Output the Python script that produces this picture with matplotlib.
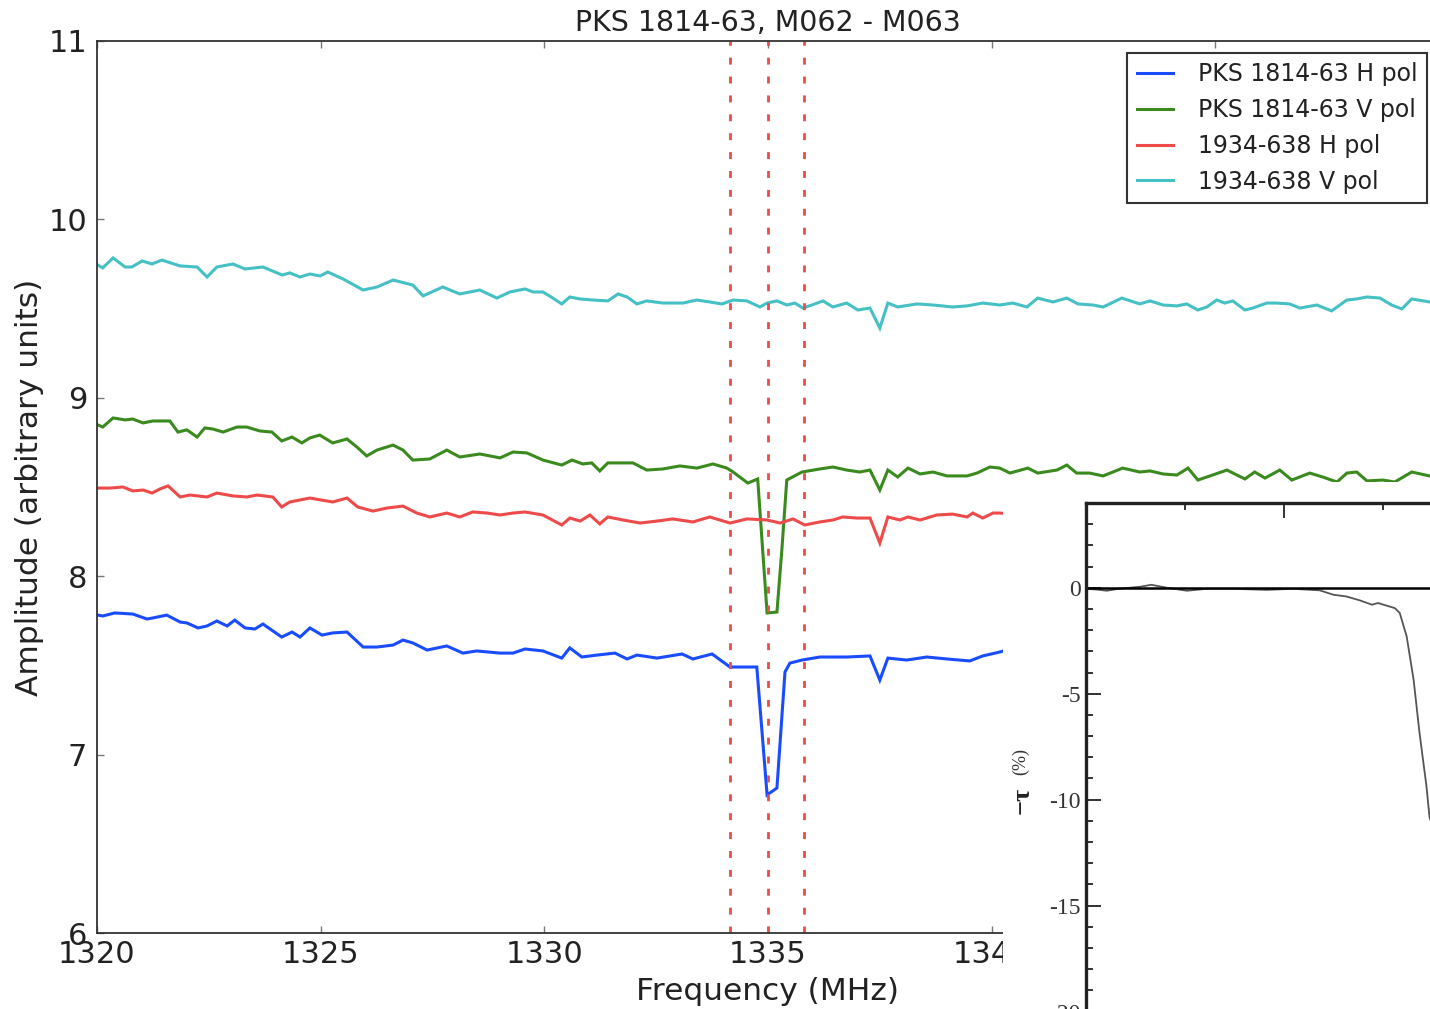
import matplotlib
matplotlib.use('Agg')
import matplotlib.pyplot as plt
from matplotlib.patches import Rectangle
from matplotlib.ticker import MultipleLocator

plt.rcParams['font.family'] = 'DejaVu Sans'
plt.rcParams['axes.unicode_minus'] = False

# ---------------- data ----------------
title = 'PKS 1814-63, M062 - M063'
series_labels = ['PKS 1814-63 H pol', 'PKS 1814-63 V pol', '1934-638 H pol', '1934-638 V pol']
series_colors = ['#1a4cff', '#3a8a1e', '#ee4a4a', '#45c0c4']

pks_h_freq = [1320.02, 1320.13, 1320.40, 1320.80, 1321.12, 1321.25, 1321.56, 1321.86, 1322.01, 1322.26,
              1322.46, 1322.68, 1322.91, 1323.08, 1323.31, 1323.53, 1323.71, 1324.13, 1324.36, 1324.54,
              1324.76, 1325.03, 1325.27, 1325.59, 1325.95, 1326.26, 1326.62, 1326.84, 1327.06, 1327.38,
              1327.82, 1328.18, 1328.49, 1329.01, 1329.30, 1329.57, 1329.97, 1330.39, 1330.57, 1330.84,
              1331.18, 1331.58, 1331.85, 1332.07, 1332.52, 1333.08, 1333.32, 1333.75, 1334.15, 1334.75,
              1334.98, 1335.20, 1335.38, 1335.49, 1335.76, 1336.16, 1336.76, 1337.28, 1337.50, 1337.68,
              1338.10, 1338.55, 1339.00, 1339.51, 1339.80, 1340.18, 1340.40]
pks_h_amp = [7.782, 7.777, 7.794, 7.788, 7.760, 7.766, 7.782, 7.743, 7.738, 7.710,
             7.721, 7.749, 7.721, 7.754, 7.710, 7.704, 7.732, 7.659, 7.687, 7.659,
             7.710, 7.670, 7.682, 7.687, 7.603, 7.603, 7.614, 7.642, 7.626, 7.586,
             7.609, 7.569, 7.581, 7.569, 7.569, 7.592, 7.581, 7.541, 7.598, 7.547,
             7.558, 7.569, 7.536, 7.558, 7.541, 7.564, 7.536, 7.564, 7.491, 7.491,
             6.774, 6.813, 7.463, 7.513, 7.530, 7.547, 7.547, 7.553, 7.418, 7.541,
             7.530, 7.547, 7.536, 7.525, 7.553, 7.575, 7.590]

pks_v_freq = [1320.02, 1320.13, 1320.36, 1320.63, 1320.80, 1321.03, 1321.25, 1321.63, 1321.81, 1322.01,
              1322.24, 1322.41, 1322.59, 1322.82, 1323.13, 1323.35, 1323.64, 1323.91, 1324.13, 1324.36,
              1324.58, 1324.76, 1324.98, 1325.27, 1325.59, 1325.81, 1326.03, 1326.26, 1326.62, 1326.84,
              1327.06, 1327.44, 1327.82, 1328.11, 1328.56, 1329.01, 1329.30, 1329.61, 1329.97, 1330.39,
              1330.62, 1330.86, 1331.06, 1331.24, 1331.42, 1331.98, 1332.29, 1332.65, 1333.03, 1333.41,
              1333.77, 1334.08, 1334.22, 1334.55, 1334.77, 1334.98, 1335.20, 1335.31, 1335.42, 1335.76,
              1336.16, 1336.45, 1336.76, 1337.05, 1337.28, 1337.50, 1337.68, 1337.90, 1338.13, 1338.40,
              1338.69, 1339.00, 1339.45, 1339.67, 1339.96, 1340.18, 1340.41, 1340.81, 1341.03, 1341.46,
              1341.68, 1341.90, 1342.19, 1342.49, 1342.93, 1343.31, 1343.54, 1343.83, 1344.14, 1344.39,
              1344.61, 1344.88, 1345.26, 1345.66, 1345.88, 1346.11, 1346.44, 1346.71, 1347.11, 1347.40,
              1347.72, 1347.94, 1348.16, 1348.39, 1348.74, 1349.01, 1349.39, 1349.79]
pks_v_amp = [8.848, 8.836, 8.887, 8.876, 8.881, 8.859, 8.870, 8.870, 8.808, 8.820,
             8.780, 8.831, 8.825, 8.808, 8.836, 8.836, 8.814, 8.808, 8.758, 8.780,
             8.747, 8.775, 8.791, 8.747, 8.769, 8.724, 8.674, 8.707, 8.735, 8.707,
             8.651, 8.657, 8.707, 8.668, 8.685, 8.663, 8.696, 8.691, 8.651, 8.623,
             8.651, 8.629, 8.635, 8.590, 8.635, 8.635, 8.595, 8.601, 8.618, 8.606,
             8.629, 8.606, 8.584, 8.522, 8.545, 7.794, 7.799, 8.147, 8.539, 8.584,
             8.601, 8.612, 8.595, 8.584, 8.595, 8.483, 8.595, 8.556, 8.606, 8.573,
             8.584, 8.562, 8.562, 8.578, 8.612, 8.606, 8.578, 8.606, 8.578, 8.595,
             8.623, 8.578, 8.578, 8.562, 8.606, 8.584, 8.590, 8.573, 8.567, 8.606,
             8.539, 8.562, 8.595, 8.545, 8.584, 8.550, 8.595, 8.539, 8.578, 8.556,
             8.528, 8.578, 8.584, 8.534, 8.539, 8.528, 8.584, 8.562]

cal_h_freq = [1320.02, 1320.29, 1320.58, 1320.80, 1321.03, 1321.23, 1321.41, 1321.59, 1321.86, 1322.08,
              1322.46, 1322.68, 1323.04, 1323.35, 1323.58, 1323.93, 1324.13, 1324.31, 1324.76, 1325.27,
              1325.59, 1325.83, 1326.17, 1326.48, 1326.84, 1327.15, 1327.44, 1327.82, 1328.11, 1328.40,
              1328.72, 1329.01, 1329.30, 1329.57, 1329.97, 1330.39, 1330.57, 1330.80, 1331.02, 1331.24,
              1331.42, 1331.76, 1332.14, 1332.52, 1332.87, 1333.32, 1333.70, 1334.15, 1334.53, 1334.98,
              1335.27, 1335.56, 1335.82, 1336.16, 1336.45, 1336.67, 1336.99, 1337.28, 1337.50, 1337.68,
              1337.95, 1338.13, 1338.40, 1338.77, 1339.13, 1339.45, 1339.58, 1339.80, 1340.03, 1340.18,
              1340.40]
cal_h_amp = [8.494, 8.494, 8.500, 8.478, 8.483, 8.466, 8.489, 8.506, 8.444, 8.455,
             8.444, 8.466, 8.450, 8.444, 8.455, 8.444, 8.388, 8.416, 8.438, 8.416,
             8.438, 8.388, 8.365, 8.382, 8.393, 8.354, 8.332, 8.354, 8.332, 8.360,
             8.354, 8.343, 8.354, 8.360, 8.343, 8.287, 8.326, 8.309, 8.343, 8.293,
             8.332, 8.315, 8.298, 8.309, 8.321, 8.304, 8.332, 8.298, 8.321, 8.315,
             8.298, 8.321, 8.287, 8.304, 8.315, 8.332, 8.326, 8.326, 8.186, 8.332,
             8.315, 8.332, 8.315, 8.343, 8.348, 8.332, 8.354, 8.326, 8.354, 8.354,
             8.350]

cal_v_freq = [1320.02, 1320.13, 1320.36, 1320.63, 1320.78, 1321.01, 1321.23, 1321.45, 1321.86, 1322.24,
              1322.46, 1322.68, 1323.04, 1323.31, 1323.71, 1324.14, 1324.31, 1324.54, 1324.76, 1324.99,
              1325.16, 1325.50, 1325.95, 1326.26, 1326.62, 1327.06, 1327.29, 1327.73, 1328.11, 1328.56,
              1328.94, 1329.23, 1329.57, 1329.75, 1329.97, 1330.19, 1330.39, 1330.57, 1330.80, 1331.09,
              1331.42, 1331.65, 1331.85, 1332.07, 1332.29, 1332.65, 1333.10, 1333.41, 1333.70, 1333.97,
              1334.22, 1334.53, 1334.82, 1334.98, 1335.20, 1335.42, 1335.60, 1335.78, 1335.98, 1336.23,
              1336.45, 1336.76, 1337.01, 1337.28, 1337.50, 1337.68, 1337.90, 1338.33, 1338.69, 1339.13,
              1339.45, 1339.80, 1340.18, 1340.47, 1340.79, 1341.03, 1341.37, 1341.68, 1341.93, 1342.26,
              1342.49, 1342.91, 1343.31, 1343.54, 1343.83, 1344.14, 1344.36, 1344.61, 1344.81, 1345.03,
              1345.21, 1345.39, 1345.66, 1345.84, 1346.15, 1346.37, 1346.66, 1346.89, 1347.27, 1347.60,
              1347.94, 1348.16, 1348.39, 1348.68, 1348.94, 1349.17, 1349.39, 1349.79]
cal_v_amp = [9.744, 9.728, 9.784, 9.733, 9.733, 9.767, 9.750, 9.772, 9.739, 9.733,
             9.677, 9.733, 9.750, 9.722, 9.733, 9.688, 9.700, 9.677, 9.694, 9.683,
             9.705, 9.666, 9.604, 9.621, 9.660, 9.632, 9.571, 9.621, 9.582, 9.604,
             9.559, 9.593, 9.610, 9.593, 9.593, 9.559, 9.526, 9.565, 9.554, 9.548,
             9.543, 9.582, 9.565, 9.526, 9.543, 9.531, 9.531, 9.548, 9.537, 9.526,
             9.548, 9.543, 9.509, 9.531, 9.543, 9.520, 9.531, 9.503, 9.520, 9.543,
             9.509, 9.531, 9.492, 9.503, 9.391, 9.531, 9.509, 9.526, 9.520, 9.509,
             9.515, 9.531, 9.520, 9.531, 9.509, 9.559, 9.537, 9.559, 9.526, 9.520,
             9.509, 9.559, 9.526, 9.543, 9.520, 9.515, 9.526, 9.492, 9.509, 9.548,
             9.531, 9.543, 9.492, 9.503, 9.531, 9.531, 9.526, 9.503, 9.520, 9.487,
             9.548, 9.554, 9.565, 9.559, 9.520, 9.498, 9.554, 9.537]

marker_freqs = [1334.15, 1335.0, 1335.8]

# inset (optical depth, arbitrary x units)
inset_x = [0.00, 0.10, 0.21, 0.33, 0.44, 0.55, 0.66, 0.82, 1.02, 1.22, 1.49, 1.83, 2.09, 2.36,
           2.50, 2.63, 2.77, 2.89, 2.95, 3.12, 3.17, 3.24, 3.31, 3.37, 3.44, 3.47, 3.60]
inset_tau = [-0.05, -0.08, -0.14, -0.05, 0.00, 0.05, 0.14, 0.00, -0.14, -0.05, -0.05, -0.10, -0.05, -0.12,
             -0.33, -0.41, -0.60, -0.80, -0.72, -0.96, -1.19, -2.30, -4.34, -6.86, -9.37, -10.8, -13.0]

x_ticks = [1320, 1325, 1330, 1335, 1340, 1345, 1350]
y_ticks = [6, 7, 8, 9, 10, 11]

# ---------------- figure ----------------
fig = plt.figure(figsize=(14.3, 10.09), dpi=100)
ax = fig.add_axes([0.0678, 0.0753, 0.9385, 0.8841])

series = [(pks_h_freq, pks_h_amp), (pks_v_freq, pks_v_amp), (cal_h_freq, cal_h_amp), (cal_v_freq, cal_v_amp)]
for (fx, fy), lab, col in zip(series, series_labels, series_colors):
    ax.plot(fx, fy, color=col, lw=2.2, label=lab, solid_joinstyle='miter')

for f in marker_freqs:
    ax.axvline(f, color='#ee4a4a', lw=2.0, ls=(0, (2.5, 4.3)))

ax.set_xlim(1320, 1350)
ax.set_ylim(6, 11)
ax.set_xticks(x_ticks)
ax.set_yticks(y_ticks)
ax.tick_params(direction='in', top=True, right=True, length=5, width=1, color='#777777',
               labelsize=22, labelcolor='#222222')
ax.tick_params(axis='x', pad=5)
ax.tick_params(axis='y', pad=7)
for s in ax.spines.values():
    s.set_color('#333333')
    s.set_linewidth(1.3)

ax.set_title(title, fontsize=20.5, color='#222222', pad=7)
ax.set_xlabel('Frequency (MHz)', fontsize=22.5, color='#222222', labelpad=6)
ax.set_ylabel('Amplitude (arbitrary units)', fontsize=22.5, color='#222222', labelpad=3)

leg = ax.legend(loc='upper right', fontsize=17, frameon=True, fancybox=False, framealpha=1,
                edgecolor='#333333', borderaxespad=0.5, handlelength=1.55, handletextpad=1.05,
                labelspacing=0.5, borderpad=0.4)
leg.get_frame().set_linewidth(1.5)
for t in leg.get_texts():
    t.set_color('#222222')

# white backdrop of the pasted inset figure
rect = Rectangle((0.7014, 0.0), 0.32, 0.5223, transform=fig.transFigure,
                 facecolor='white', edgecolor='none', zorder=5)
fig.add_artist(rect)

ins = fig.add_axes([0.7594, -0.0446, 0.2769, 0.5461], zorder=10)
ins.plot(inset_x, inset_tau, color='#555555', lw=1.3)
ins.axhline(0, color='black', lw=1.8)
ins.set_xlim(0, 4)
ins.set_ylim(-22, 4)
ins.yaxis.set_major_locator(MultipleLocator(5))
ins.yaxis.set_minor_locator(MultipleLocator(1))
ins.xaxis.set_major_locator(MultipleLocator(2))
ins.xaxis.set_minor_locator(MultipleLocator(1))
ins.tick_params(which='both', direction='in', top=True, right=True, labelbottom=False,
                width=1.3, color='#222222')
ins.tick_params(which='major', length=11, pad=4, labelsize=17)
ins.tick_params(which='minor', length=5)
for lab in ins.get_yticklabels():
    lab.set_fontfamily(['Liberation Serif', 'DejaVu Serif'])
    lab.set_color('#333333')
for s in ins.spines.values():
    s.set_color('#222222')
    s.set_linewidth(2.4)

fig.text(0.714, 0.2448, '(%)', rotation=90, ha='center', va='center', fontsize=13,
         family=['Liberation Serif', 'DejaVu Serif'], color='#333333', zorder=11)
fig.text(0.7145, 0.2071, '\u2212\u03c4', rotation=90, ha='center', va='center', fontsize=19,
         fontweight='bold', family=['Liberation Serif', 'DejaVu Serif'], color='#222222', zorder=11)

fig.savefig('out.png', dpi=100)
